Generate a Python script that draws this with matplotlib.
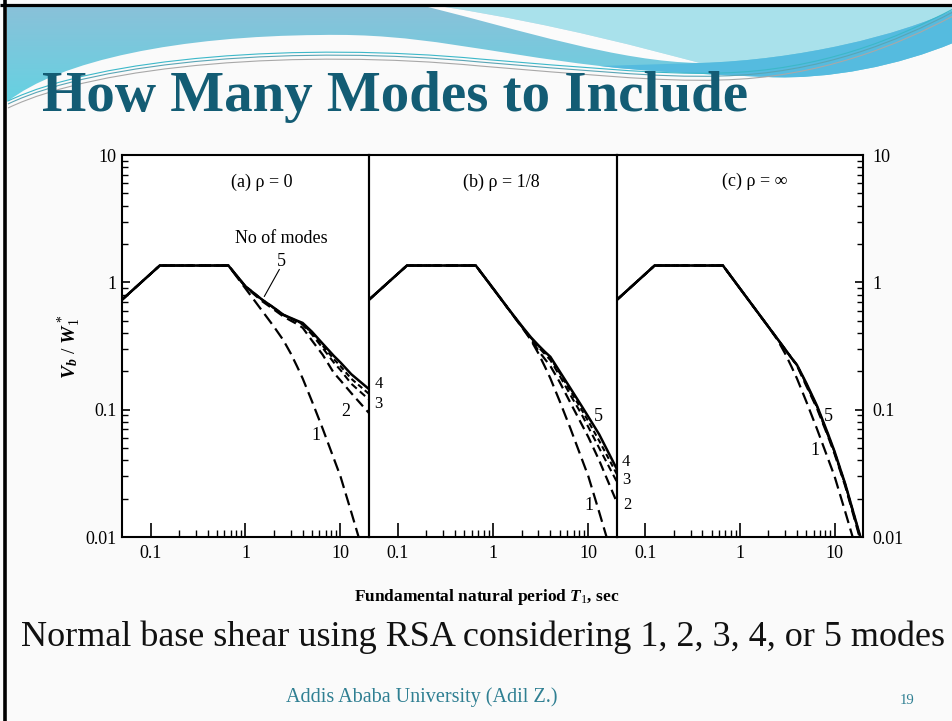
import matplotlib.pyplot as plt
import numpy as np
from matplotlib.path import Path
from matplotlib.patches import PathPatch
from matplotlib.colors import to_rgb
from matplotlib.ticker import FixedLocator, FixedFormatter, NullFormatter

plt.rcParams['font.family'] = ['Liberation Serif', 'DejaVu Serif']
plt.rcParams['mathtext.fontset'] = 'custom'
plt.rcParams['mathtext.rm'] = 'Liberation Serif'
plt.rcParams['mathtext.it'] = 'Liberation Serif:italic:bold'
plt.rcParams['mathtext.bf'] = 'Liberation Serif:bold'

# Fundamental period grid (sec) shared by all curves
T1 = [0.05, 0.125, 0.66, 1.0, 1.5, 2.0, 2.5, 3.0, 3.5, 4.0, 5.0, 6.5, 8.5, 10, 13, 20]

# One-mode response = design spectrum, identical in all panels
mode1 = [0.73, 1.355, 1.355, 0.894, 0.596, 0.447, 0.352, 0.276, 0.218, 0.176, 0.117,
         0.071, 0.0415, 0.030, 0.0157, 0.0053]

# (a) rho = 0
rho0_m2 = [0.73, 1.355, 1.355, 0.92, 0.71, 0.61, 0.54, 0.50, 0.47, 0.44, 0.35,
           0.27, 0.195, 0.17, 0.135, 0.094]
rho0_m3 = [0.73, 1.355, 1.355, 0.925, 0.725, 0.625, 0.553, 0.52, 0.49, 0.465, 0.39,
           0.305, 0.235, 0.205, 0.16, 0.12]
rho0_m4 = [0.73, 1.355, 1.355, 0.93, 0.73, 0.63, 0.557, 0.523, 0.495, 0.47, 0.40,
           0.318, 0.25, 0.22, 0.175, 0.133]
rho0_m5 = [0.73, 1.355, 1.355, 0.93, 0.73, 0.63, 0.557, 0.525, 0.50, 0.48, 0.41,
           0.33, 0.265, 0.235, 0.19, 0.145]

# (b) rho = 1/8
rho8_m2 = [0.73, 1.355, 1.355, 0.894, 0.596, 0.447, 0.358, 0.29, 0.25, 0.22, 0.165,
           0.113, 0.077, 0.061, 0.040, 0.0186]
rho8_m3 = [0.73, 1.355, 1.355, 0.895, 0.598, 0.45, 0.362, 0.31, 0.273, 0.245, 0.185,
           0.13, 0.092, 0.073, 0.050, 0.027]
rho8_m4 = [0.73, 1.355, 1.355, 0.90, 0.60, 0.452, 0.366, 0.317, 0.28, 0.255, 0.195,
           0.14, 0.10, 0.081, 0.057, 0.031]
rho8_m5 = [0.73, 1.355, 1.355, 0.90, 0.60, 0.455, 0.37, 0.32, 0.285, 0.26, 0.20,
           0.147, 0.107, 0.088, 0.064, 0.034]

# (c) rho = infinity
rhoinf_m2 = [0.73, 1.355, 1.355, 0.894, 0.596, 0.447, 0.358, 0.298, 0.255, 0.222, 0.155,
             0.103, 0.062, 0.045, 0.025, 0.008]
rhoinf_m3 = [0.73, 1.355, 1.355, 0.894, 0.596, 0.447, 0.358, 0.298, 0.255, 0.224, 0.159,
             0.105, 0.063, 0.046, 0.0255, 0.0083]
rhoinf_m4 = [0.73, 1.355, 1.355, 0.894, 0.596, 0.447, 0.358, 0.298, 0.255, 0.225, 0.161,
             0.107, 0.064, 0.0465, 0.0258, 0.0084]
rhoinf_m5 = [0.73, 1.355, 1.355, 0.894, 0.596, 0.447, 0.358, 0.298, 0.255, 0.225, 0.163,
             0.108, 0.065, 0.047, 0.026, 0.0085]

panel_titles = ['(a) ρ = 0', '(b) ρ = 1/8', '(c) ρ = ∞']
x_major = [0.1, 1, 10]
x_major_labels = ['0.1', '1', '10']
y_major = [0.01, 0.1, 1, 10]
y_major_labels = ['0.01', '0.1', '1', '10']

W, H = 953, 721
SERIF = ['Liberation Serif', 'DejaVu Serif']
fig = plt.figure(figsize=(W / 100, H / 100), dpi=100, facecolor='#fafafa')

# ---- slide decoration (pixel coordinates, y downwards) ----
bg = fig.add_axes([0, 0, 1, 1], zorder=-1)
bg.axis('off')


def bezier_path(start, segs, close=True):
    verts, codes = [start], [Path.MOVETO]
    for s in segs:
        if len(s) == 1:
            verts += s
            codes += [Path.LINETO]
        else:
            verts += s
            codes += [Path.CURVE4] * 3
    if close:
        verts.append(start)
        codes.append(Path.CLOSEPOLY)
    return Path(verts, codes)


wave = bezier_path((7, 7), [[(953, 7)], [(953, 43)],
                            [(900, 65), (830, 80), (767, 77)],
                            [(700, 74), (650, 72), (600, 66)],
                            [(480, 52), (420, 33), (320, 35)],
                            [(180, 36), (60, 60), (7, 102)]])
wave_patch = PathPatch(wave, facecolor='none', edgecolor='none')
bg.add_patch(wave_patch)
c_top, c_bot = np.array(to_rgb('#8cc0d8')), np.array(to_rgb('#62d3e3'))
ramp = np.linspace(0, 1, 120)[:, None, None]
grad = c_top * (1 - ramp) + c_bot * ramp
grad = np.repeat(grad, 4, axis=1)
im = bg.imshow(grad, extent=(0, W, 110, 0), aspect='auto', zorder=1)
im.set_clip_path(wave_patch)

light = bezier_path((445, 7), [[(953, 7)], [(953, 10)],
                               [(900, 35), (800, 60), (700, 63)],
                               [(650, 50), (560, 25), (445, 7)]])
bg.add_patch(PathPatch(light, facecolor='#a9e1eb', edgecolor='none', zorder=2))

streak = bezier_path((428, 7), [[(445, 7)],
                                [(560, 25), (650, 50), (700, 63)],
                                [(620, 62), (520, 30), (428, 7)]])
bg.add_patch(PathPatch(streak, facecolor='#fbfbfb', edgecolor='none', zorder=2))

band = bezier_path((953, 10), [[(900, 35), (800, 60), (700, 63)], [(600, 66)],
                               [(650, 72), (700, 74), (767, 77)],
                               [(830, 80), (900, 65), (953, 43)]])
bg.add_patch(PathPatch(band, facecolor='#55bbdf', edgecolor='none', zorder=2))

for dy, col in [(0, '#5aa5b5'), (4, '#a8a8a8'), (-3, '#3cb8c9')]:
    thin = bezier_path((8, 104 + dy), [[(100, 60 + dy), (300, 45 + dy), (480, 62 + dy)],
                                       [(580, 70 + dy), (660, 78 + dy), (720, 76 + dy)],
                                       [(820, 74 + dy), (900, 40 + dy), (953, 12 + dy)]],
                       close=False)
    bg.add_patch(PathPatch(thin, facecolor='none', edgecolor=col, lw=0.8, zorder=3))

bg.plot([0, W], [4.5, 4.5], color='black', lw=2.3, zorder=5, solid_capstyle='butt')
bg.plot([5, 5], [0, H], color='black', lw=2.6, zorder=5, solid_capstyle='butt')
bg.set_xlim(0, W)
bg.set_ylim(H, 0)

# ---- the three panels ----
def px_axes(x0, x1, y0, y1, z):
    return fig.add_axes([x0 / W, 1 - y1 / H, (x1 - x0) / W, (y1 - y0) / H], zorder=z)


ax_a = px_axes(122, 369, 155, 537, 3)
ax_b = px_axes(369, 617, 155, 537, 2)
ax_c = px_axes(617, 863, 155, 537, 1)
axes = [ax_a, ax_b, ax_c]

panel_curves = [
    (rho0_m2, rho0_m3, rho0_m4, rho0_m5),
    (rho8_m2, rho8_m3, rho8_m4, rho8_m5),
    (rhoinf_m2, rhoinf_m3, rhoinf_m4, rhoinf_m5),
]
dash1 = (0, (5.5, 2.6))
dash2 = (0, (4.5, 2.4))
dash3 = (0, (3.4, 2.0))
dash4 = (0, (2.6, 1.6))

x_minor = [k * 0.1 for k in range(2, 10)] + list(range(2, 10))
y_minor = [k * d for d in (0.01, 0.1, 1) for k in range(2, 10)]
fs = 13
tfs = 13

for i, (ax, curves) in enumerate(zip(axes, panel_curves)):
    m2, m3, m4, m5 = curves
    ax.set_facecolor('white')
    ax.patch.set_alpha(0.0 if i < 2 else 1.0)
    ax.plot(T1, mode1, color='black', lw=1.6, ls=dash1)
    ax.plot(T1, m2, color='black', lw=1.6, ls=dash2)
    ax.plot(T1, m3, color='black', lw=1.5, ls=dash3)
    ax.plot(T1, m4, color='black', lw=1.5, ls=dash4)
    ax.plot(T1, m5, color='black', lw=1.8, solid_joinstyle='miter')
    ax.set_xscale('log')
    ax.set_yscale('log')
    ax.set_xlim(0.05, 20)
    ax.set_ylim(0.01, 10)
    for sp in ax.spines.values():
        sp.set_linewidth(1.5)
    ax.xaxis.set_major_locator(FixedLocator(x_major))
    ax.xaxis.set_major_formatter(FixedFormatter(x_major_labels))
    ax.xaxis.set_minor_locator(FixedLocator(x_minor))
    ax.xaxis.set_minor_formatter(NullFormatter())
    ax.tick_params(axis='x', which='major', direction='in', length=10, width=1.2,
                   labelsize=tfs, pad=6, top=False)
    ax.tick_params(axis='x', which='minor', direction='in', length=5, width=1.0, top=False)
    ax.yaxis.set_major_locator(FixedLocator(y_major))
    ax.yaxis.set_major_formatter(FixedFormatter(y_major_labels))
    ax.yaxis.set_minor_locator(FixedLocator(y_minor))
    ax.yaxis.set_minor_formatter(NullFormatter())
    if i == 0:
        ax.tick_params(axis='y', which='both', direction='in', left=True, right=False,
                       labelleft=True, labelright=False, labelsize=tfs, pad=4)
    elif i == 2:
        ax.tick_params(axis='y', which='both', direction='in', left=False, right=True,
                       labelleft=False, labelright=True, labelsize=tfs, pad=7)
    else:
        ax.tick_params(axis='y', which='both', left=False, right=False,
                       labelleft=False, labelright=False)
    ax.tick_params(axis='y', which='major', length=6, width=1.2)
    ax.tick_params(axis='y', which='minor', length=4, width=1.0)

# white backing for the panel row, drawn under the transparent panels
fig.patches.append(plt.Rectangle((122 / W, 1 - 537 / H), (617 - 122) / W, 382 / H,
                                 transform=fig.transFigure, facecolor='white',
                                 edgecolor='none', zorder=0.5))

ax_a.text(1.5, 6.1, panel_titles[0], fontsize=fs, ha='center', va='center')
ax_b.text(1.23, 6.1, panel_titles[1], fontsize=fs, ha='center', va='center')
ax_c.text(1.44, 6.24, panel_titles[2], fontsize=fs, ha='center', va='center')

# mode-count labels
ax_a.text(2.36, 2.2, 'No of modes', fontsize=fs, ha='center', va='center')
ax_a.text(2.36, 1.45, '5', fontsize=fs, ha='center', va='center')
ax_a.plot([2.27, 1.58], [1.26, 0.776], color='black', lw=0.8)
ax_a.text(11.3, 0.0964, '2', fontsize=fs, ha='center', va='center')
ax_a.text(5.5, 0.063, '1', fontsize=fs, ha='center', va='center')
ax_a.text(25.3, 0.158, '4', fontsize=12, ha='center', va='center', clip_on=False)
ax_a.text(25.3, 0.11, '3', fontsize=12, ha='center', va='center', clip_on=False)

ax_b.text(12.9, 0.088, '5', fontsize=fs, ha='center', va='center')
ax_b.text(24.8, 0.0385, '4', fontsize=12, ha='center', va='center', clip_on=False)
ax_b.text(24.8, 0.0278, '3', fontsize=12, ha='center', va='center', clip_on=False)
ax_b.text(25.8, 0.0178, '2', fontsize=12, ha='center', va='center', clip_on=False)
ax_b.text(10.1, 0.0178, '1', fontsize=fs, ha='center', va='center')

ax_c.text(8.56, 0.088, '5', fontsize=fs, ha='center', va='center')
ax_c.text(6.2, 0.048, '1', fontsize=fs, ha='center', va='center')

fig.text(70 / W, 1 - 347 / H, r'$V_b\ /\ W_1^*$', rotation=90, fontsize=14,
         ha='center', va='center')
fig.text(487 / W, 1 - 597 / H, r'Fundamental natural period $T_1$, sec', fontsize=12.5,
         fontweight='bold', ha='center', va='center')

# ---- slide texts ----
fig.text(42 / W, 1 - 97 / H, 'How Many Modes to Include', fontsize=41, fontweight='bold',
         color='#135c74', ha='left', va='center', family=SERIF)
fig.text(483 / W, 1 - 637 / H, 'Normal base shear using RSA considering 1, 2, 3, 4, or 5 modes',
         fontsize=26, color='#111111', ha='center', va='center', family=SERIF)
fig.text(422 / W, 1 - 697 / H, 'Addis Ababa University (Adil Z.)', fontsize=14.5,
         color='#2f7f92', ha='center', va='center', family=SERIF)
fig.text(907 / W, 1 - 700 / H, '19', fontsize=10.5, color='#2f7f92', ha='center', va='center',
         family=SERIF)

fig.savefig('out.png', dpi=100, facecolor=fig.get_facecolor())
